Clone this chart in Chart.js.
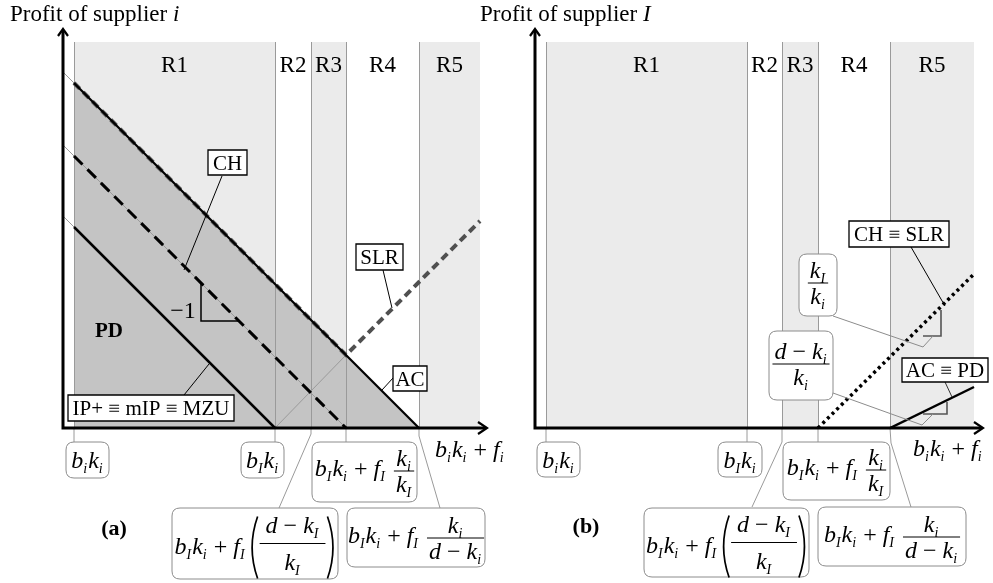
<!DOCTYPE html>
<html>
<head>
<meta charset="utf-8">
<script src="https://cdn.jsdelivr.net/npm/chart.js@4.4.1/dist/chart.umd.min.js"></script>
<style>
  html, body { margin: 0; padding: 0; background: #fff; }
  #wrap { position: relative; width: 993px; height: 583px; }
  #wrap canvas { position: absolute; left: 0; top: 0; }
</style>
</head>
<body>
<div id="wrap">
  <canvas id="chartA" width="993" height="583"></canvas>
  <canvas id="chartB" width="993" height="583"></canvas>
</div>
<script>
// ---- data: panel (a), profit of supplier i ----
const regionNames = ['R1', 'R2', 'R3', 'R4', 'R5'];
const regionsA = [1.1, 21.2, 24.8, 28.3, 35.6, 41.7];
const acA  = [[1.1, 34.5], [35.6, 0]];
const slrA = [[1.1, 34.5], [28.3, 7.3], [41.7, 20.7]];
const chA  = [[1.1, 27.2], [28.3, 0]];
const ipA  = [[1.1, 20.1], [21.2, 0]];
const guidesA = [
  [[0, 35.6], [1.1, 34.5]],
  [[0, 28.3], [28.3, 0]],
  [[0, 21.2], [1.1, 20.1]],
  [[21.2, 0], [28.3, 7.3]]
];
// ---- data: panel (b), profit of supplier I ----
const regionsB = [1.1, 21.2, 24.7, 28.3, 35.5, 43.9];
const chB = [[28.3, 0], [43.9, 15.4]];
const acB = [[35.5, 0], [43.9, 4.1]];

const FAM = '"Liberation Serif", "Times New Roman", serif';
const MS = 24; // math font size
const fnt = (size, style) => (style || '') + size + 'px ' + FAM;
const xy = pts => pts.map(p => ({ x: p[0], y: p[1] }));

// little math-text tokens
const I = (s, sub) => ({ s, it: true, sub });
const R = s => ({ s });
const S = n => ({ sp: n });
const FR = (n, d, big) => ({ fr: [n, d], big });
const PA = c => ({ pa: c });
const bik = [I('b', 'i'), I('k', 'i')];
const bIk = [I('b', 'I'), I('k', 'i')];
const M1 = [...bIk, R(' + '), I('f', 'I'), S(8), FR([I('k', 'i')], [I('k', 'I')])];
const M2 = [...bIk, R(' + '), I('f', 'I'), S(4), PA([FR([I('d'), R(' − '), I('k', 'I')], [I('k', 'I')], true)])];
const M3 = [...bIk, R(' + '), I('f', 'I'), S(8), FR([I('k', 'i')], [I('d'), R(' − '), I('k', 'i')])];
const MX = [...bik, R(' + '), I('f', 'i')];
const MkK = [FR([I('k', 'I')], [I('k', 'i')])];
const MdK = [FR([I('d'), R(' − '), I('k', 'i')], [I('k', 'i')])];

function paren(ctx, x, top, bot, right) {
  const mid = (top + bot) / 2;
  ctx.beginPath();
  if (!right) { ctx.moveTo(x + 8, top); ctx.quadraticCurveTo(x - 3, mid, x + 8, bot); }
  else { ctx.moveTo(x - 8, top); ctx.quadraticCurveTo(x + 3, mid, x - 8, bot); }
  ctx.lineWidth = 1.7; ctx.strokeStyle = '#000'; ctx.stroke();
}

function math(ctx, toks, x, y, size, draw) {
  let cx = x;
  for (const t of toks) {
    if (t.sp) {
      cx += t.sp;
    } else if (t.fr) {
      const wn = math(ctx, t.fr[0], 0, 0, size, false), wd = math(ctx, t.fr[1], 0, 0, size, false);
      const w = Math.max(wn, wd) + (t.big ? 12 : 4);
      const bar = y - (t.big ? 10 : 5);
      if (draw) {
        math(ctx, t.fr[0], cx + (w - wn) / 2, bar - (t.big ? 11 : 5), size, true);
        math(ctx, t.fr[1], cx + (w - wd) / 2, bar + (t.big ? 26 : 21), size, true);
        ctx.beginPath(); ctx.moveTo(cx, bar); ctx.lineTo(cx + w, bar);
        ctx.lineWidth = 1; ctx.strokeStyle = '#000'; ctx.stroke();
      }
      cx += w;
    } else if (t.pa) {
      const wi = math(ctx, t.pa, 0, 0, size, false);
      const bar = y - 10;
      if (draw) {
        paren(ctx, cx, bar - 27, bar + 35, false);
        math(ctx, t.pa, cx + 10, y, size, true);
        paren(ctx, cx + wi + 20, bar - 27, bar + 35, true);
      }
      cx += wi + 20;
    } else {
      ctx.font = fnt(size, t.it ? 'italic ' : '');
      if (draw) ctx.fillText(t.s, cx, y);
      cx += ctx.measureText(t.s).width;
      if (t.sub) {
        ctx.font = fnt(Math.round(size * 0.58), 'italic ');
        if (draw) ctx.fillText(t.sub, cx, y + 5);
        cx += ctx.measureText(t.sub).width + 1;
      }
    }
  }
  return cx - x;
}

function boxPath(ctx, x1, y1, x2, y2, r) {
  ctx.beginPath();
  ctx.moveTo(x1 + r, y1);
  ctx.lineTo(x2 - r, y1); ctx.quadraticCurveTo(x2, y1, x2, y1 + r);
  ctx.lineTo(x2, y2 - r); ctx.quadraticCurveTo(x2, y2, x2 - r, y2);
  ctx.lineTo(x1 + r, y2); ctx.quadraticCurveTo(x1, y2, x1, y2 - r);
  ctx.lineTo(x1, y1 + r); ctx.quadraticCurveTo(x1, y1, x1 + r, y1);
  ctx.closePath();
}

function boundaryLines(chart, o) {
  const { ctx, scales: { x, y } } = chart;
  ctx.save();
  ctx.strokeStyle = '#9a9a9a'; ctx.lineWidth = 1;
  for (let i = 0; i < o.regions.length - 1; i++) {
    const px = Math.round(x.getPixelForValue(o.regions[i])) + 0.5;
    ctx.beginPath(); ctx.moveTo(px, y.getPixelForValue(o.top)); ctx.lineTo(px, y.getPixelForValue(0)); ctx.stroke();
  }
  ctx.restore();
}

const diagram = {
  id: 'diagram',
  beforeDatasetsDraw(chart, args, o) {
    const { ctx, scales: { x, y } } = chart;
    ctx.save();
    ctx.fillStyle = '#ebebeb';
    for (let i = 0; i < o.regions.length - 1; i += 2) {
      const x1 = x.getPixelForValue(o.regions[i]), x2 = x.getPixelForValue(o.regions[i + 1]);
      const y1 = y.getPixelForValue(o.top), y2 = y.getPixelForValue(0);
      ctx.fillRect(x1, y1, x2 - x1, y2 - y1);
    }
    ctx.restore();
    if (o.fillIndex === undefined) boundaryLines(chart, o);
  },
  afterDatasetDraw(chart, args, o) {
    if (args.index === o.fillIndex) boundaryLines(chart, o);
  },
  afterDraw(chart, args, o) {
    const { ctx, scales: { x, y } } = chart;
    const X = v => x.getPixelForValue(v), Y = v => y.getPixelForValue(v);
    ctx.save();
    ctx.textBaseline = 'alphabetic';
    // region names
    ctx.fillStyle = '#000'; ctx.font = fnt(23); ctx.textAlign = 'center';
    regionNames.forEach((n, i) => ctx.fillText(n, X((o.regions[i] + o.regions[i + 1]) / 2), Y(35.6)));
    // title
    ctx.textAlign = 'left';
    ctx.font = fnt(23);
    const tx = X(o.title[0]), ty = Y(o.title[1]);
    ctx.fillText(o.title[2], tx, ty);
    const tw = ctx.measureText(o.title[2]).width;
    ctx.font = fnt(23, 'italic ');
    ctx.fillText(o.title[3], tx + tw, ty);
    // leader lines
    ctx.lineCap = 'butt';
    o.leaders.forEach(l => {
      ctx.beginPath();
      l.p.forEach((p, i) => i ? ctx.lineTo(X(p[0]), Y(p[1])) : ctx.moveTo(X(p[0]), Y(p[1])));
      ctx.strokeStyle = l.c; ctx.lineWidth = l.w || 1; ctx.stroke();
    });
    // axes with arrow heads
    const ox = X(0), oy = Y(0), tipX = X(o.xTip), tipY = Y(40);
    ctx.strokeStyle = '#000'; ctx.lineWidth = 3;
    ctx.beginPath(); ctx.moveTo(ox, oy + 1.5); ctx.lineTo(ox, tipY + 2); ctx.moveTo(ox - 1.5, oy); ctx.lineTo(tipX - 2, oy); ctx.stroke();
    ctx.lineWidth = 2.2;
    ctx.beginPath();
    ctx.moveTo(ox - 5, tipY + 8); ctx.lineTo(ox, tipY + 1); ctx.lineTo(ox + 5, tipY + 8);
    ctx.moveTo(tipX - 9, oy - 6); ctx.lineTo(tipX, oy); ctx.lineTo(tipX - 9, oy + 6);
    ctx.stroke();
    // boxes
    o.boxes.forEach(b => {
      const x1 = X(b.r[0]), y1 = Y(b.r[1]), x2 = X(b.r[2]), y2 = Y(b.r[3]);
      boxPath(ctx, x1, y1, x2, y2, b.m ? 8 : 0);
      ctx.fillStyle = '#fff'; ctx.fill();
      ctx.strokeStyle = b.m ? '#8c8c8c' : '#000'; ctx.lineWidth = b.m ? 1 : 1.3; ctx.stroke();
      ctx.fillStyle = '#000';
      const cx = (x1 + x2) / 2, cy = (y1 + y2) / 2;
      if (b.m) {
        const w = math(ctx, b.m, 0, 0, MS, false);
        math(ctx, b.m, cx - w / 2, cy + (b.dy || 0), MS, true);
      } else {
        ctx.font = fnt(21); ctx.textAlign = 'center';
        ctx.fillText(b.t, cx, cy + 7);
        ctx.textAlign = 'left';
      }
    });
    // free texts
    ctx.fillStyle = '#000';
    o.texts.forEach(t => {
      ctx.font = fnt(t.size || 22, t.style); ctx.textAlign = 'center';
      ctx.fillText(t.s, X(t.x), Y(t.y));
    });
    ctx.textAlign = 'left';
    o.maths.forEach(m => math(ctx, m.m, X(m.x), Y(m.y), MS, true));
    ctx.restore();
  }
};

function line(pts, color, width, dash, order, extra) {
  return Object.assign({
    data: xy(pts), showLine: true, pointRadius: 0, borderColor: color, borderWidth: width,
    borderDash: dash || [], fill: false, order: order || 0, tension: 0, borderCapStyle: 'butt'
  }, extra || {});
}

function makeChart(id, datasets, xmax, padding, ann) {
  return new Chart(document.getElementById(id), {
    type: 'scatter',
    data: { datasets },
    options: {
      responsive: false, animation: false, events: [],
      layout: { padding },
      scales: {
        x: { type: 'linear', min: 0, max: xmax, display: false },
        y: { type: 'linear', min: 0, max: 40, display: false }
      },
      plugins: { legend: { display: false }, tooltip: { enabled: false }, diagram: ann }
    },
    plugins: [diagram]
  });
}

// ---- panel (a) ----
const dsA = [
  line(acA, 'rgba(0,0,0,0)', 0, null, 10, { fill: 'origin', backgroundColor: '#c4c4c4' }),
  ...guidesA.map(g => line(g, '#9a9a9a', 1, null, 5)),
  line(ipA, '#000', 2.5),
  line(chA, '#000', 3, [12, 7]),
  line(acA, '#000', 2.2),
  line(slrA, '#505050', 4, [8, 5], 1)
];
makeChart('chartA', dsA, 42.4, { left: 63, right: 506, top: 28, bottom: 155 }, {
  regions: regionsA, top: 38.6, fillIndex: 0, xTip: 42.4,
  title: [-5.3, 40.7, 'Profit of supplier ', 'i'],
  leaders: [
    { c: '#000', p: [[15.9, 25.2], [12.1, 15.8]] },
    { c: '#000', p: [[32.0, 15.8], [32.9, 12.0]] },
    { c: '#000', p: [[33.0, 5.0], [31.9, 3.8]] },
    { c: '#000', p: [[12.1, 3.3], [14.6, 6.4]] },
    { c: '#000', w: 1.5, p: [[13.8, 14.5], [13.8, 10.7], [17.7, 10.7]] },
    { c: '#9a9a9a', p: [[1.1, 0], [1.1, -1.4]] },
    { c: '#9a9a9a', p: [[21.2, 0], [21.2, -1.4]] },
    { c: '#9a9a9a', p: [[28.3, 0], [28.3, -1.4]] },
    { c: '#9a9a9a', p: [[24.8, 0], [24.8, -0.6], [21.6, -8.0]] },
    { c: '#9a9a9a', p: [[35.6, 0], [35.6, -0.8], [37.7, -8.0]] }
  ],
  boxes: [
    { r: [14.5, 27.8, 18.4, 25.3], t: 'CH' },
    { r: [29.3, 18.4, 34.0, 15.8], t: 'SLR' },
    { r: [33.0, 6.2, 36.4, 3.7], t: 'AC' },
    { r: [0.5, 3.3, 17.1, 0.7], t: 'IP+ ≡ mIP ≡ MZU' },
    { r: [0.3, -1.4, 4.6, -5.0], m: bik, dy: 8 },
    { r: [17.8, -1.4, 22.1, -5.0], m: bIk, dy: 8 },
    { r: [24.9, -1.4, 35.4, -7.4], m: M1, dy: 4 },
    { r: [10.9, -8.0, 27.5, -15.1], m: M2, dy: 10 },
    { r: [28.4, -8.0, 42.2, -13.9], m: M3, dy: 5.5 }
  ],
  texts: [
    { x: 4.6, y: 9.1, s: 'PD', style: 'bold ', size: 21 },
    { x: 12.0, y: 11.0, s: '−1', size: 24 },
    { x: 5.1, y: -10.7, s: '(a)', style: 'bold ', size: 22 }
  ],
  maths: [{ x: 37.2, y: -2.9, m: MX }]
});

// ---- panel (b) ----
const dsB = [
  line(chB, '#000', 3.5, [3, 3.5]),
  line(acB, '#000', 2.5)
];
makeChart('chartB', dsB, 44.8, { left: 535, right: 10, top: 28, bottom: 155 }, {
  regions: regionsB, top: 38.6, xTip: 44.8,
  title: [-5.5, 40.7, 'Profit of supplier ', 'I'],
  leaders: [
    { c: '#000', p: [[37.6, 18.1], [41.0, 12.2]] },
    { c: '#333', p: [[41.0, 4.6], [41.7, 3.1]] },
    { c: '#555', w: 1.6, p: [[38.8, 9.2], [40.6, 9.2], [40.6, 11.8]] },
    { c: '#555', w: 1.6, p: [[38.8, 1.4], [41.2, 1.4], [41.2, 2.6]] },
    { c: '#8c8c8c', p: [[29.8, 11.2], [38.8, 8.1], [39.8, 9.2]] },
    { c: '#8c8c8c', p: [[29.8, 3.5], [38.7, 0.3], [39.8, 1.4]] },
    { c: '#9a9a9a', p: [[1.1, 0], [1.1, -1.4]] },
    { c: '#9a9a9a', p: [[21.2, 0], [21.2, -1.4]] },
    { c: '#9a9a9a', p: [[28.3, 0], [28.3, -1.4]] },
    { c: '#9a9a9a', p: [[24.7, 0], [24.7, -1.4], [21.7, -7.9]] },
    { c: '#9a9a9a', p: [[35.5, 0], [35.6, -1.5], [37.6, -7.9]] }
  ],
  boxes: [
    { r: [31.4, 20.7, 41.4, 18.1], t: 'CH ≡ SLR' },
    { r: [36.7, 7.0, 45.3, 4.6], t: 'AC ≡ PD' },
    { r: [26.4, 17.4, 30.2, 11.2], m: MkK, dy: 3 },
    { r: [23.4, 9.7, 29.8, 2.8], m: MdK, dy: 3.5 },
    { r: [0.2, -1.4, 4.5, -4.9], m: bik, dy: 8 },
    { r: [18.3, -1.4, 22.7, -4.9], m: bIk, dy: 8 },
    { r: [24.8, -1.4, 35.5, -7.2], m: M1, dy: 4 },
    { r: [10.9, -8.0, 27.4, -14.9], m: M2, dy: 10 },
    { r: [28.3, -7.9, 43.1, -13.8], m: M3, dy: 5.5 }
  ],
  texts: [
    { x: 5.1, y: -10.5, s: '(b)', style: 'bold ', size: 22 }
  ],
  maths: [{ x: 37.8, y: -2.8, m: MX }]
});
</script>
</body>
</html>
